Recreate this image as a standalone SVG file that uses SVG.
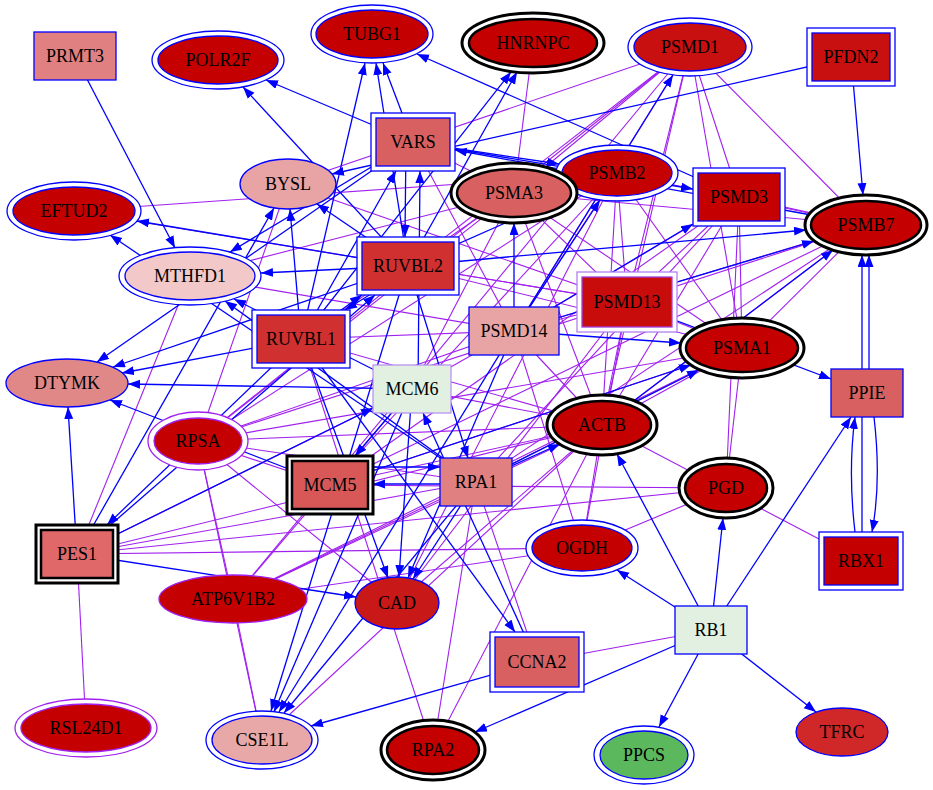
<svg xmlns="http://www.w3.org/2000/svg" width="933" height="790" viewBox="0 0 933 790">
<defs>
<marker id="ah" markerUnits="userSpaceOnUse" markerWidth="13" markerHeight="10" refX="12" refY="4.5" orient="auto"><path d="M0,0 L12,4.5 L0,9 z" fill="#0000ff"/></marker>
</defs>
<style>
.u{stroke:#a020f0;stroke-width:1.1;fill:none}
.e{stroke:#0000ff;stroke-width:1.3;fill:none;marker-end:url(#ah)}
.o{fill:#fff;stroke:#0000ff;stroke-width:1.3}
.i{stroke:#0000ff;stroke-width:1.3}
.ok{fill:#fff;stroke:#000;stroke-width:3}
.ik{stroke:#000;stroke-width:2.5}
.op{fill:#fff;stroke:#a020f0;stroke-width:1.3}
.ip{stroke:#a020f0;stroke-width:1.3}
text{font-family:"Liberation Serif","Times New Roman",serif;font-size:18px;text-anchor:middle;fill:#000}
</style>
<rect width="933" height="790" fill="#fff"/>
<g id="connectors">
<line class="u" x1="533" y1="43" x2="514" y2="193"/>
<line class="u" x1="690" y1="47" x2="288" y2="184"/>
<line class="u" x1="690" y1="47" x2="514" y2="193"/>
<line class="u" x1="690" y1="47" x2="739" y2="197"/>
<line class="u" x1="690" y1="47" x2="866" y2="225"/>
<line class="u" x1="690" y1="47" x2="627" y2="302"/>
<line class="u" x1="690" y1="47" x2="514" y2="331"/>
<line class="u" x1="690" y1="47" x2="742" y2="348"/>
<line class="u" x1="690" y1="47" x2="602" y2="425"/>
<line class="u" x1="690" y1="47" x2="198" y2="441"/>
<line class="u" x1="690" y1="47" x2="408" y2="266"/>
<line class="u" x1="690" y1="47" x2="233" y2="599"/>
<line class="u" x1="74" y1="211" x2="617" y2="173"/>
<line class="u" x1="74" y1="211" x2="627" y2="302"/>
<line class="u" x1="190" y1="276" x2="514" y2="193"/>
<line class="u" x1="190" y1="276" x2="514" y2="331"/>
<line class="u" x1="190" y1="276" x2="77" y2="554"/>
<line class="u" x1="288" y1="184" x2="198" y2="441"/>
<line class="u" x1="288" y1="184" x2="627" y2="302"/>
<line class="u" x1="617" y1="173" x2="514" y2="331"/>
<line class="u" x1="617" y1="173" x2="627" y2="302"/>
<line class="u" x1="617" y1="173" x2="742" y2="348"/>
<line class="u" x1="617" y1="173" x2="602" y2="425"/>
<line class="u" x1="617" y1="173" x2="866" y2="225"/>
<line class="u" x1="617" y1="173" x2="198" y2="441"/>
<line class="u" x1="617" y1="173" x2="330" y2="485"/>
<line class="u" x1="617" y1="173" x2="397" y2="603"/>
<line class="u" x1="514" y1="193" x2="627" y2="302"/>
<line class="u" x1="514" y1="193" x2="742" y2="348"/>
<line class="u" x1="514" y1="193" x2="866" y2="225"/>
<line class="u" x1="514" y1="193" x2="602" y2="425"/>
<line class="u" x1="514" y1="193" x2="412" y2="389"/>
<line class="u" x1="514" y1="193" x2="198" y2="441"/>
<line class="u" x1="514" y1="193" x2="413" y2="142"/>
<line class="u" x1="739" y1="197" x2="866" y2="225"/>
<line class="u" x1="739" y1="197" x2="627" y2="302"/>
<line class="u" x1="739" y1="197" x2="514" y2="331"/>
<line class="u" x1="739" y1="197" x2="742" y2="348"/>
<line class="u" x1="739" y1="197" x2="726" y2="488"/>
<line class="u" x1="739" y1="197" x2="602" y2="425"/>
<line class="u" x1="739" y1="197" x2="476" y2="482"/>
<line class="u" x1="739" y1="197" x2="330" y2="485"/>
<line class="u" x1="866" y1="225" x2="627" y2="302"/>
<line class="u" x1="866" y1="225" x2="514" y2="331"/>
<line class="u" x1="866" y1="225" x2="602" y2="425"/>
<line class="u" x1="866" y1="225" x2="742" y2="348"/>
<line class="u" x1="866" y1="225" x2="330" y2="485"/>
<line class="u" x1="866" y1="225" x2="476" y2="482"/>
<line class="u" x1="627" y1="302" x2="742" y2="348"/>
<line class="u" x1="627" y1="302" x2="602" y2="425"/>
<line class="u" x1="627" y1="302" x2="514" y2="331"/>
<line class="u" x1="627" y1="302" x2="198" y2="441"/>
<line class="u" x1="627" y1="302" x2="582" y2="548"/>
<line class="u" x1="627" y1="302" x2="397" y2="603"/>
<line class="u" x1="627" y1="302" x2="408" y2="266"/>
<line class="u" x1="514" y1="331" x2="602" y2="425"/>
<line class="u" x1="514" y1="331" x2="198" y2="441"/>
<line class="u" x1="514" y1="331" x2="412" y2="389"/>
<line class="u" x1="514" y1="331" x2="301" y2="339"/>
<line class="u" x1="514" y1="331" x2="582" y2="548"/>
<line class="u" x1="742" y1="348" x2="602" y2="425"/>
<line class="u" x1="742" y1="348" x2="330" y2="485"/>
<line class="u" x1="742" y1="348" x2="476" y2="482"/>
<line class="u" x1="742" y1="348" x2="726" y2="488"/>
<line class="u" x1="742" y1="348" x2="198" y2="441"/>
<line class="u" x1="602" y1="425" x2="861" y2="561"/>
<line class="u" x1="602" y1="425" x2="582" y2="548"/>
<line class="u" x1="602" y1="425" x2="330" y2="485"/>
<line class="u" x1="602" y1="425" x2="77" y2="554"/>
<line class="u" x1="602" y1="425" x2="233" y2="599"/>
<line class="u" x1="602" y1="425" x2="397" y2="603"/>
<line class="u" x1="602" y1="425" x2="198" y2="441"/>
<line class="u" x1="602" y1="425" x2="262" y2="740"/>
<line class="u" x1="198" y1="441" x2="233" y2="599"/>
<line class="u" x1="198" y1="441" x2="262" y2="740"/>
<line class="u" x1="198" y1="441" x2="397" y2="603"/>
<line class="u" x1="198" y1="441" x2="330" y2="485"/>
<line class="u" x1="198" y1="441" x2="476" y2="482"/>
<line class="u" x1="77" y1="554" x2="86" y2="728"/>
<line class="u" x1="77" y1="554" x2="582" y2="548"/>
<line class="u" x1="77" y1="554" x2="726" y2="488"/>
<line class="u" x1="77" y1="554" x2="412" y2="389"/>
<line class="u" x1="77" y1="554" x2="476" y2="482"/>
<line class="u" x1="233" y1="599" x2="262" y2="740"/>
<line class="u" x1="233" y1="599" x2="582" y2="548"/>
<line class="u" x1="233" y1="599" x2="742" y2="348"/>
<line class="u" x1="233" y1="599" x2="476" y2="482"/>
<line class="u" x1="233" y1="599" x2="412" y2="389"/>
<line class="u" x1="433" y1="750" x2="301" y2="339"/>
<line class="u" x1="433" y1="750" x2="476" y2="482"/>
<line class="u" x1="433" y1="750" x2="602" y2="425"/>
<line class="u" x1="537" y1="662" x2="711" y2="630"/>
<line class="u" x1="537" y1="662" x2="476" y2="482"/>
<line class="u" x1="582" y1="548" x2="726" y2="488"/>
<line class="u" x1="301" y1="339" x2="514" y2="193"/>
<line class="u" x1="301" y1="339" x2="602" y2="425"/>
<line class="u" x1="412" y1="389" x2="602" y2="425"/>
<line class="u" x1="330" y1="485" x2="726" y2="488"/>
<line class="u" x1="413" y1="142" x2="514" y2="331"/>
<line class="u" x1="408" y1="266" x2="742" y2="348"/>

<line class="e" x1="75" y1="56" x2="175" y2="248"/>
<line class="e" x1="413" y1="142" x2="266" y2="80"/>
<line class="e" x1="408" y1="266" x2="243" y2="87"/>
<line class="e" x1="413" y1="142" x2="383" y2="63"/>
<line class="e" x1="301" y1="339" x2="365" y2="63"/>
<line class="e" x1="408" y1="266" x2="376" y2="63"/>
<line class="e" x1="739" y1="197" x2="417" y2="54"/>
<line class="e" x1="408" y1="266" x2="517" y2="72"/>
<line class="e" x1="301" y1="339" x2="511" y2="72"/>
<line class="e" x1="514" y1="331" x2="673" y2="75"/>
<line class="e" x1="851" y1="57" x2="863" y2="195"/>
<line class="e" x1="851" y1="57" x2="332" y2="174"/>
<line class="e" x1="413" y1="142" x2="559" y2="164"/>
<line class="e" x1="413" y1="142" x2="693" y2="189"/>
<line class="e" x1="866" y1="225" x2="455" y2="150"/>
<line class="e" x1="413" y1="142" x2="230" y2="252"/>
<line class="e" x1="408" y1="266" x2="261" y2="273"/>
<line class="e" x1="476" y1="482" x2="225" y2="301"/>
<line class="e" x1="412" y1="389" x2="234" y2="299"/>
<line class="e" x1="413" y1="142" x2="97" y2="362"/>
<line class="e" x1="408" y1="266" x2="113" y2="367"/>
<line class="e" x1="301" y1="339" x2="122" y2="373"/>
<line class="e" x1="412" y1="389" x2="128" y2="384"/>
<line class="e" x1="330" y1="485" x2="110" y2="400"/>
<line class="e" x1="77" y1="554" x2="68" y2="407"/>
<line class="e" x1="408" y1="266" x2="137" y2="221"/>
<line class="e" x1="476" y1="482" x2="110" y2="235"/>
<line class="e" x1="301" y1="339" x2="290" y2="209"/>
<line class="e" x1="77" y1="554" x2="274" y2="208"/>
<line class="e" x1="408" y1="266" x2="317" y2="204"/>
<line class="e" x1="301" y1="339" x2="362" y2="295"/>
<line class="e" x1="410" y1="270" x2="345" y2="310"/>
<line class="e" x1="77" y1="554" x2="375" y2="295"/>
<line class="e" x1="406" y1="142" x2="405" y2="237"/>
<line class="e" x1="301" y1="339" x2="396" y2="171"/>
<line class="e" x1="418" y1="389" x2="420" y2="171"/>
<line class="e" x1="514" y1="331" x2="514" y2="223"/>
<line class="e" x1="514" y1="331" x2="600" y2="200"/>
<line class="e" x1="408" y1="266" x2="573" y2="193"/>
<line class="e" x1="514" y1="331" x2="814" y2="241"/>
<line class="e" x1="408" y1="266" x2="806" y2="230"/>
<line class="e" x1="602" y1="425" x2="833" y2="250"/>
<line class="e" x1="869" y1="393" x2="869" y2="255"/>
<line class="e" x1="862" y1="561" x2="862" y2="255"/>
<line class="e" x1="627" y1="302" x2="831" y2="379"/>
<line class="e" x1="514" y1="331" x2="681" y2="343"/>
<line class="e" x1="476" y1="482" x2="699" y2="370"/>
<line class="e" x1="330" y1="485" x2="691" y2="365"/>
<line class="e" x1="476" y1="482" x2="560" y2="444"/>
<line class="e" x1="711" y1="630" x2="617" y2="454"/>
<line class="e" x1="711" y1="630" x2="617" y2="570"/>
<line class="e" x1="711" y1="630" x2="723" y2="518"/>
<line class="e" x1="711" y1="630" x2="851" y2="417"/>
<line class="e" x1="711" y1="630" x2="659" y2="727"/>
<line class="e" x1="711" y1="630" x2="816" y2="712"/>
<line class="e" x1="711" y1="630" x2="475" y2="732"/>
<line class="e" x1="537" y1="662" x2="311" y2="726"/>
<path class="e" d="M855,532 C850,490 850,455 855,417"/>
<path class="e" d="M874,417 C879,460 879,495 872,532"/>
<line class="e" x1="77" y1="554" x2="356" y2="597"/>
<line class="e" x1="301" y1="339" x2="388" y2="578"/>
<line class="e" x1="412" y1="389" x2="399" y2="577"/>
<line class="e" x1="476" y1="482" x2="413" y2="579"/>
<line class="e" x1="514" y1="331" x2="408" y2="578"/>
<line class="e" x1="408" y1="266" x2="271" y2="711"/>
<line class="e" x1="412" y1="389" x2="274" y2="712"/>
<line class="e" x1="514" y1="331" x2="279" y2="712"/>
<line class="e" x1="476" y1="482" x2="284" y2="713"/>
<line class="e" x1="301" y1="339" x2="515" y2="632"/>
<line class="e" x1="537" y1="662" x2="423" y2="413"/>
<line class="e" x1="330" y1="467" x2="440" y2="467"/>
<line class="e" x1="476" y1="484" x2="373" y2="484"/>
<line class="e" x1="412" y1="389" x2="355" y2="456"/>
<line class="e" x1="77" y1="554" x2="373" y2="408"/>
<line class="e" x1="408" y1="266" x2="468" y2="458"/>
<line class="e" x1="301" y1="339" x2="107" y2="525"/>
<line class="e" x1="514" y1="331" x2="693" y2="224"/>
</g>

<g id="PRMT3"><rect class="i" x="34" y="32" width="82" height="48" fill="#e08080"/><text x="75" y="62">PRMT3</text></g>
<g id="POLR2F"><ellipse class="o" cx="218" cy="60" rx="66" ry="29"/><ellipse class="i" cx="218" cy="60" rx="60" ry="24" fill="#c40000"/><text x="218" y="66">POLR2F</text></g>
<g id="TUBG1"><ellipse class="o" cx="372" cy="34" rx="61" ry="29"/><ellipse class="i" cx="372" cy="34" rx="56" ry="24" fill="#c40000"/><text x="372" y="40">TUBG1</text></g>
<g id="HNRNPC"><ellipse class="ok" cx="533" cy="43" rx="71" ry="30"/><ellipse class="ik" cx="533" cy="43" rx="64" ry="24" fill="#c40000"/><text x="533" y="49">HNRNPC</text></g>
<g id="PSMD1"><ellipse class="o" cx="690" cy="47" rx="62" ry="29"/><ellipse class="i" cx="690" cy="47" rx="56" ry="24" fill="#c81010"/><text x="690" y="53">PSMD1</text></g>
<g id="PFDN2"><rect class="o" x="807" y="28" width="88" height="58"/><rect class="i" x="812" y="33" width="78" height="48" fill="#c81010"/><text x="851" y="63">PFDN2</text></g>
<g id="VARS"><rect class="o" x="371" y="113" width="84" height="58"/><rect class="i" x="376" y="118" width="74" height="48" fill="#d86060"/><text x="413" y="148">VARS</text></g>
<g id="BYSL"><ellipse class="i" cx="288" cy="184" rx="48" ry="25" fill="#e8a4a4"/><text x="288" y="190">BYSL</text></g>
<g id="PSMB2"><ellipse class="o" cx="617" cy="173" rx="61" ry="28"/><ellipse class="i" cx="617" cy="173" rx="55" ry="23" fill="#c40000"/><text x="617" y="179">PSMB2</text></g>
<g id="PSMA3"><ellipse class="ok" cx="514" cy="193" rx="63" ry="30"/><ellipse class="ik" cx="514" cy="193" rx="57" ry="24" fill="#d86060"/><text x="514" y="199">PSMA3</text></g>
<g id="PSMD3"><rect class="o" x="693" y="168" width="92" height="58"/><rect class="i" x="698" y="173" width="82" height="48" fill="#c40000"/><text x="739" y="203">PSMD3</text></g>
<g id="PSMB7"><ellipse class="ok" cx="866" cy="225" rx="61" ry="30"/><ellipse class="ik" cx="866" cy="225" rx="55" ry="24" fill="#c40000"/><text x="866" y="231">PSMB7</text></g>
<g id="EFTUD2"><ellipse class="o" cx="74" cy="211" rx="67" ry="29"/><ellipse class="i" cx="74" cy="211" rx="61" ry="24" fill="#c40000"/><text x="74" y="217">EFTUD2</text></g>
<g id="RUVBL2"><rect class="o" x="357" y="237" width="102" height="58"/><rect class="i" x="362" y="242" width="92" height="48" fill="#d03030"/><text x="408" y="272">RUVBL2</text></g>
<g id="MTHFD1"><ellipse class="o" cx="190" cy="276" rx="71" ry="29"/><ellipse class="i" cx="190" cy="276" rx="65" ry="24" fill="#f2c8c8"/><text x="190" y="282">MTHFD1</text></g>
<g id="PSMD13"><rect x="577" y="272" width="100" height="60" fill="#fff" stroke="#b080f0" stroke-width="1.3"/><rect x="582" y="277" width="90" height="50" fill="#c80c0c" stroke="#a040e0" stroke-width="1.3"/><text x="627" y="308">PSMD13</text></g>
<g id="PSMD14"><rect class="i" x="469" y="307" width="90" height="48" fill="#e8a4a4"/><text x="514" y="337">PSMD14</text></g>
<g id="RUVBL1"><rect class="o" x="252" y="310" width="98" height="58"/><rect class="i" x="257" y="315" width="88" height="48" fill="#d03030"/><text x="301" y="345">RUVBL1</text></g>
<g id="PSMA1"><ellipse class="ok" cx="742" cy="348" rx="62" ry="30"/><ellipse class="ik" cx="742" cy="348" rx="56" ry="24" fill="#c40000"/><text x="742" y="354">PSMA1</text></g>
<g id="PPIE"><rect class="i" x="831" y="369" width="72" height="48" fill="#d86060"/><text x="867" y="399">PPIE</text></g>
<g id="DTYMK"><ellipse class="i" cx="67" cy="383" rx="61" ry="24" fill="#e08888"/><text x="67" y="389">DTYMK</text></g>
<g id="MCM6"><rect x="373" y="365" width="78" height="48" fill="#e2f0e2" stroke="#b48cf0" stroke-width="1.2"/><text x="412" y="395">MCM6</text></g>
<g id="RPSA"><ellipse class="op" cx="198" cy="441" rx="50" ry="29"/><ellipse class="ip" cx="198" cy="441" rx="44" ry="23" fill="#c40000"/><text x="198" y="447">RPSA</text></g>
<g id="ACTB"><ellipse class="ok" cx="602" cy="425" rx="55" ry="30"/><ellipse class="ik" cx="602" cy="425" rx="49" ry="24" fill="#c40000"/><text x="602" y="431">ACTB</text></g>
<g id="MCM5"><rect class="ok" x="287" y="456" width="86" height="58"/><rect class="ik" x="292" y="461" width="76" height="48" fill="#d85858"/><text x="330" y="491">MCM5</text></g>
<g id="RPA1"><rect class="i" x="440" y="458" width="72" height="48" fill="#e08080"/><text x="476" y="488">RPA1</text></g>
<g id="PGD"><ellipse class="ok" cx="726" cy="488" rx="47" ry="30"/><ellipse class="ik" cx="726" cy="488" rx="41" ry="24" fill="#c40000"/><text x="726" y="494">PGD</text></g>
<g id="RBX1"><rect class="o" x="819" y="532" width="84" height="58"/><rect class="i" x="824" y="537" width="74" height="48" fill="#c40000"/><text x="861" y="567">RBX1</text></g>
<g id="PES1"><rect class="ok" x="36" y="525" width="82" height="58"/><rect class="ik" x="41" y="530" width="72" height="48" fill="#e06868"/><text x="77" y="560">PES1</text></g>
<g id="OGDH"><ellipse class="o" cx="582" cy="548" rx="56" ry="28"/><ellipse class="i" cx="582" cy="548" rx="50" ry="23" fill="#c40000"/><text x="582" y="554">OGDH</text></g>
<g id="ATP6V1B2"><ellipse class="ip" cx="233" cy="599" rx="74" ry="24" fill="#c40000"/><text x="233" y="605">ATP6V1B2</text></g>
<g id="CAD"><ellipse class="i" cx="397" cy="603" rx="42" ry="26" fill="#c81818"/><text x="397" y="609">CAD</text></g>
<g id="RB1"><rect class="i" x="675" y="606" width="72" height="48" fill="#e2f0e2"/><text x="711" y="636">RB1</text></g>
<g id="CCNA2"><rect class="o" x="490" y="632" width="94" height="60"/><rect class="i" x="495" y="637" width="84" height="50" fill="#d86060"/><text x="537" y="668">CCNA2</text></g>
<g id="RSL24D1"><ellipse class="op" cx="86" cy="728" rx="71" ry="29"/><ellipse class="ip" cx="86" cy="728" rx="65" ry="24" fill="#c40000"/><text x="86" y="734">RSL24D1</text></g>
<g id="CSE1L"><ellipse class="o" cx="262" cy="740" rx="56" ry="29"/><ellipse class="i" cx="262" cy="740" rx="50" ry="24" fill="#e8a8a8"/><text x="262" y="746">CSE1L</text></g>
<g id="RPA2"><ellipse class="ok" cx="433" cy="750" rx="52" ry="30"/><ellipse class="ik" cx="433" cy="750" rx="46" ry="24" fill="#c40000"/><text x="433" y="756">RPA2</text></g>
<g id="PPCS"><ellipse class="o" cx="644" cy="755" rx="50" ry="29"/><ellipse class="i" cx="644" cy="755" rx="44" ry="24" fill="#5cb85c"/><text x="644" y="761">PPCS</text></g>
<g id="TFRC"><ellipse class="i" cx="842" cy="732" rx="46" ry="24" fill="#d02828"/><text x="842" y="738">TFRC</text></g>
</svg>
